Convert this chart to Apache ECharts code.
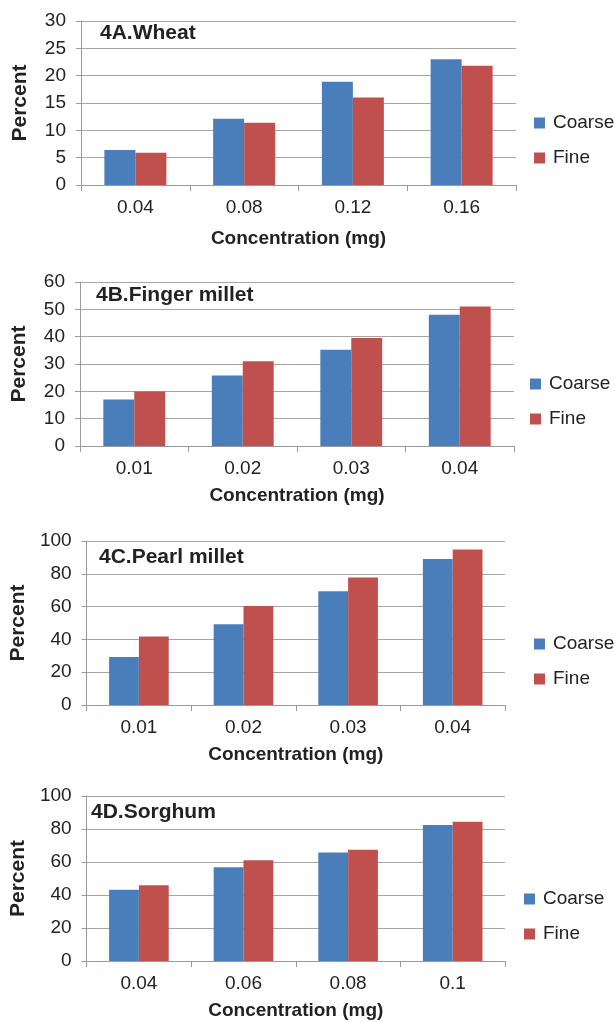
<!DOCTYPE html>
<html>
<head>
<meta charset="utf-8">
<script src="https://cdn.jsdelivr.net/npm/echarts@6/dist/echarts.min.js"></script>
<style>
html,body{margin:0;padding:0;background:#fff;}
#c{width:615px;height:1022px;}
</style>
</head>
<body>
<div id="c"></div>
<script>
// ---- data ----
const titles = ['4A.Wheat', '4B.Finger millet', '4C.Pearl millet', '4D.Sorghum'];
const seriesNames = ['Coarse', 'Fine'];
const catsA = ['0.04', '0.08', '0.12', '0.16'];
const catsB = ['0.01', '0.02', '0.03', '0.04'];
const catsC = ['0.01', '0.02', '0.03', '0.04'];
const catsD = ['0.04', '0.06', '0.08', '0.1'];
const coarseA = [6.4, 12.1, 18.9, 23.0];
const fineA   = [5.9, 11.4, 16.0, 21.8];
const coarseB = [17.0, 25.8, 35.2, 48.0];
const fineB   = [19.9, 31.0, 39.5, 51.0];
const coarseC = [29.3, 49.3, 69.3, 89.0];
const fineC   = [41.8, 60.4, 77.8, 94.8];
const coarseD = [43.2, 56.8, 65.7, 82.4];
const fineD   = [45.9, 61.0, 67.5, 84.4];
const yMax = [30, 60, 100, 100];
const yStep = [5, 10, 20, 20];
const xName = 'Concentration (mg)';
const yName = 'Percent';

// ---- layout ----
const FONT = '"Liberation Sans", Arial, sans-serif';
const grids = [
  {left: 81, top: 21, width: 435, height: 164},
  {left: 80, top: 282, width: 434, height: 164},
  {left: 80, top: 541, width: 425, height: 164},
  {left: 80, top: 796, width: 425, height: 165}
];
const titlePos = [[100, 23], [96, 285], [99, 547], [91, 802]];
const legendPos = [[534, 113], [530, 374], [534, 634], [524, 889]];
const xNameGap = [44, 40, 40, 40];
const cats = [catsA, catsB, catsC, catsD];
const coarse = [coarseA, coarseB, coarseC, coarseD];
const fine = [fineA, fineB, fineC, fineD];
const BLUE = '#4a7ebb', RED = '#c0504d';
const GRID = '#a6a6a6', AXIS = '#9a9a9a', TXT = '#222';

const option = {
  animation: false,
  backgroundColor: '#fff',
  textStyle: {fontFamily: FONT},
  color: [BLUE, RED],
  title: titles.map((t, i) => ({
    text: t, left: titlePos[i][0], top: titlePos[i][1], padding: 0,
    textStyle: {fontFamily: FONT, fontSize: 21, fontWeight: 'bold', color: TXT}
  })),
  legend: legendPos.map((p, i) => ({
    data: seriesNames, orient: 'vertical', left: p[0], top: p[1], padding: 0,
    icon: 'rect', itemWidth: 11, itemHeight: 11, itemGap: 15,
    textStyle: {fontFamily: FONT, fontSize: 19, color: TXT, lineHeight: 20, padding: [0, 0, 0, 3]}
  })),
  grid: grids.map(g => Object.assign({containLabel: false}, g)),
  xAxis: cats.map((c, i) => ({
    type: 'category', gridIndex: i, data: c,
    name: xName, nameLocation: 'middle', nameGap: xNameGap[i],
    nameTextStyle: {fontFamily: FONT, fontSize: 19, fontWeight: 'bold', color: TXT},
    axisLine: {show: true, lineStyle: {color: AXIS, width: 1}},
    axisTick: {show: true, length: 6, lineStyle: {color: AXIS}},
    axisLabel: {fontFamily: FONT, fontSize: 19, color: TXT, margin: 13},
    splitLine: {show: false}
  })),
  yAxis: yMax.map((m, i) => ({
    type: 'value', gridIndex: i, min: 0, max: m, interval: yStep[i],
    name: yName, nameLocation: 'middle', nameGap: 50, nameRotate: 90,
    nameTextStyle: {fontFamily: FONT, fontSize: 21, fontWeight: 'bold', color: TXT},
    axisLine: {show: true, lineStyle: {color: AXIS, width: 1}},
    axisTick: {show: true, length: 5, lineStyle: {color: AXIS}},
    axisLabel: {fontFamily: FONT, fontSize: 19, color: TXT, margin: 15},
    splitLine: {show: true, lineStyle: {color: GRID, width: 1}}
  })),
  series: []
};
for (let i = 0; i < 4; i++) {
  option.series.push({
    name: 'Coarse', type: 'bar', xAxisIndex: i, yAxisIndex: i, data: coarse[i],
    barGap: '0%', barCategoryGap: '43%', itemStyle: {color: BLUE}
  });
  option.series.push({
    name: 'Fine', type: 'bar', xAxisIndex: i, yAxisIndex: i, data: fine[i],
    barGap: '0%', barCategoryGap: '43%', itemStyle: {color: RED}
  });
}
const chart = echarts.init(document.getElementById('c'), null, {renderer: 'canvas'});
chart.setOption(option);
</script>
</body>
</html>
